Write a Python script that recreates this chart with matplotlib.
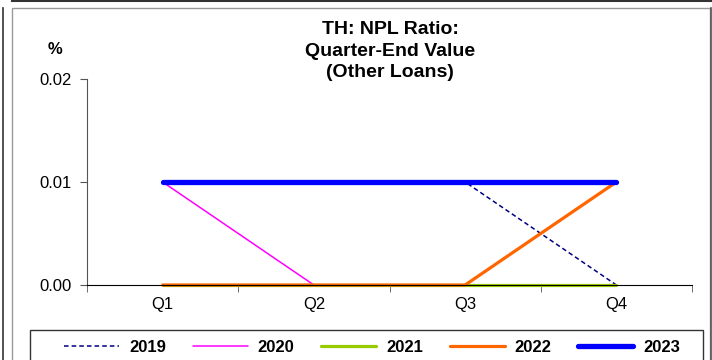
import matplotlib.pyplot as plt
from matplotlib.patches import Rectangle
from matplotlib.lines import Line2D

plt.rcParams["font.family"] = ["Liberation Sans", "DejaVu Sans"]

quarters = ["Q1", "Q2", "Q3", "Q4"]
years = ["2019", "2020", "2021", "2022", "2023"]
values = {
    "2019": [0.01, 0.01, 0.01, 0.00],
    "2020": [0.01, 0.00, 0.00, 0.00],
    "2021": [0.00, 0.00, 0.00, 0.00],
    "2022": [0.00, 0.00, 0.00, 0.01],
    "2023": [0.01, 0.01, 0.01, 0.01],
}
colors = {"2019": "#000080", "2020": "#FF00FF", "2021": "#99CC00",
          "2022": "#FF6600", "2023": "#0000FF"}
widths = {"2019": 1.1, "2020": 1.1, "2021": 2.3, "2022": 2.3, "2023": 3.8}
styles = {"2019": (0, (3, 2)), "2020": "-", "2021": "-", "2022": "-", "2023": "-"}

W, H = 712, 360
fig = plt.figure(figsize=(W / 100, H / 100), dpi=100)


def fx(px):
    return px / W


def fy(py):
    return 1 - py / H


# outer frames
fig.add_artist(Line2D([fx(3), fx(3)], [fy(8), 0], color="#333333", lw=1.2))
fig.add_artist(Line2D([fx(12), 1], [fy(0.5), fy(0.5)], color="#333333", lw=1.5))
fig.add_artist(Line2D([fx(710.5), fx(710.5)], [fy(8), 0], color="#555555", lw=1.2))
fig.add_artist(Rectangle((fx(12), -0.1), fx(698), fy(8) + 0.1, fill=False,
                         edgecolor="#999999", lw=1.0))

ax = fig.add_axes([fx(87), fy(285), fx(692 - 87), fy(79) - fy(285)])
x = range(len(quarters))
for y in years:
    ax.plot(x, values[y], color=colors[y], lw=widths[y], linestyle=styles[y],
            solid_capstyle="round", label=y, clip_on=False)

ax.set_xlim(-0.5, len(quarters) - 0.5)
ax.set_ylim(0, 0.02)
ax.set_yticks([0, 0.01, 0.02])
ax.set_yticklabels(["0.00", "0.01", "0.02"])
ax.set_xticks(list(x))
ax.set_xticklabels(quarters)
ax.set_xticks([i - 0.5 for i in range(len(quarters) + 1)], minor=True)
ax.tick_params(axis="x", which="major", length=0, pad=9, labelsize=12)
ax.tick_params(axis="x", which="minor", length=5, color="#555555")
ax.tick_params(axis="y", length=5, color="#555555", labelsize=12, pad=6)
for s in ["top", "right"]:
    ax.spines[s].set_visible(False)
ax.spines["left"].set_color("#555555")
ax.spines["bottom"].set_color("black")

fig.text(fx(55), fy(50), "%", ha="center", va="center", fontsize=12, fontweight="bold")
fig.text(fx(390), fy(51), "TH: NPL Ratio:\nQuarter-End Value\n(Other Loans)",
         ha="center", va="center", fontsize=14, fontweight="bold", linespacing=1.35)

# legend frame
fig.add_artist(Rectangle((fx(30), -0.1), fx(703 - 30), fy(330) + 0.1, fill=False,
                         edgecolor="#333333", lw=1.0))
handles, labels = ax.get_legend_handles_labels()
leg = fig.legend(handles, labels, loc="center", bbox_to_anchor=(fx(372), fy(347)),
                 ncol=5, frameon=False, handlelength=3.3, columnspacing=1.6,
                 handletextpad=0.6, prop={"size": 12, "weight": "bold"})

fig.savefig("out.png", dpi=100)
